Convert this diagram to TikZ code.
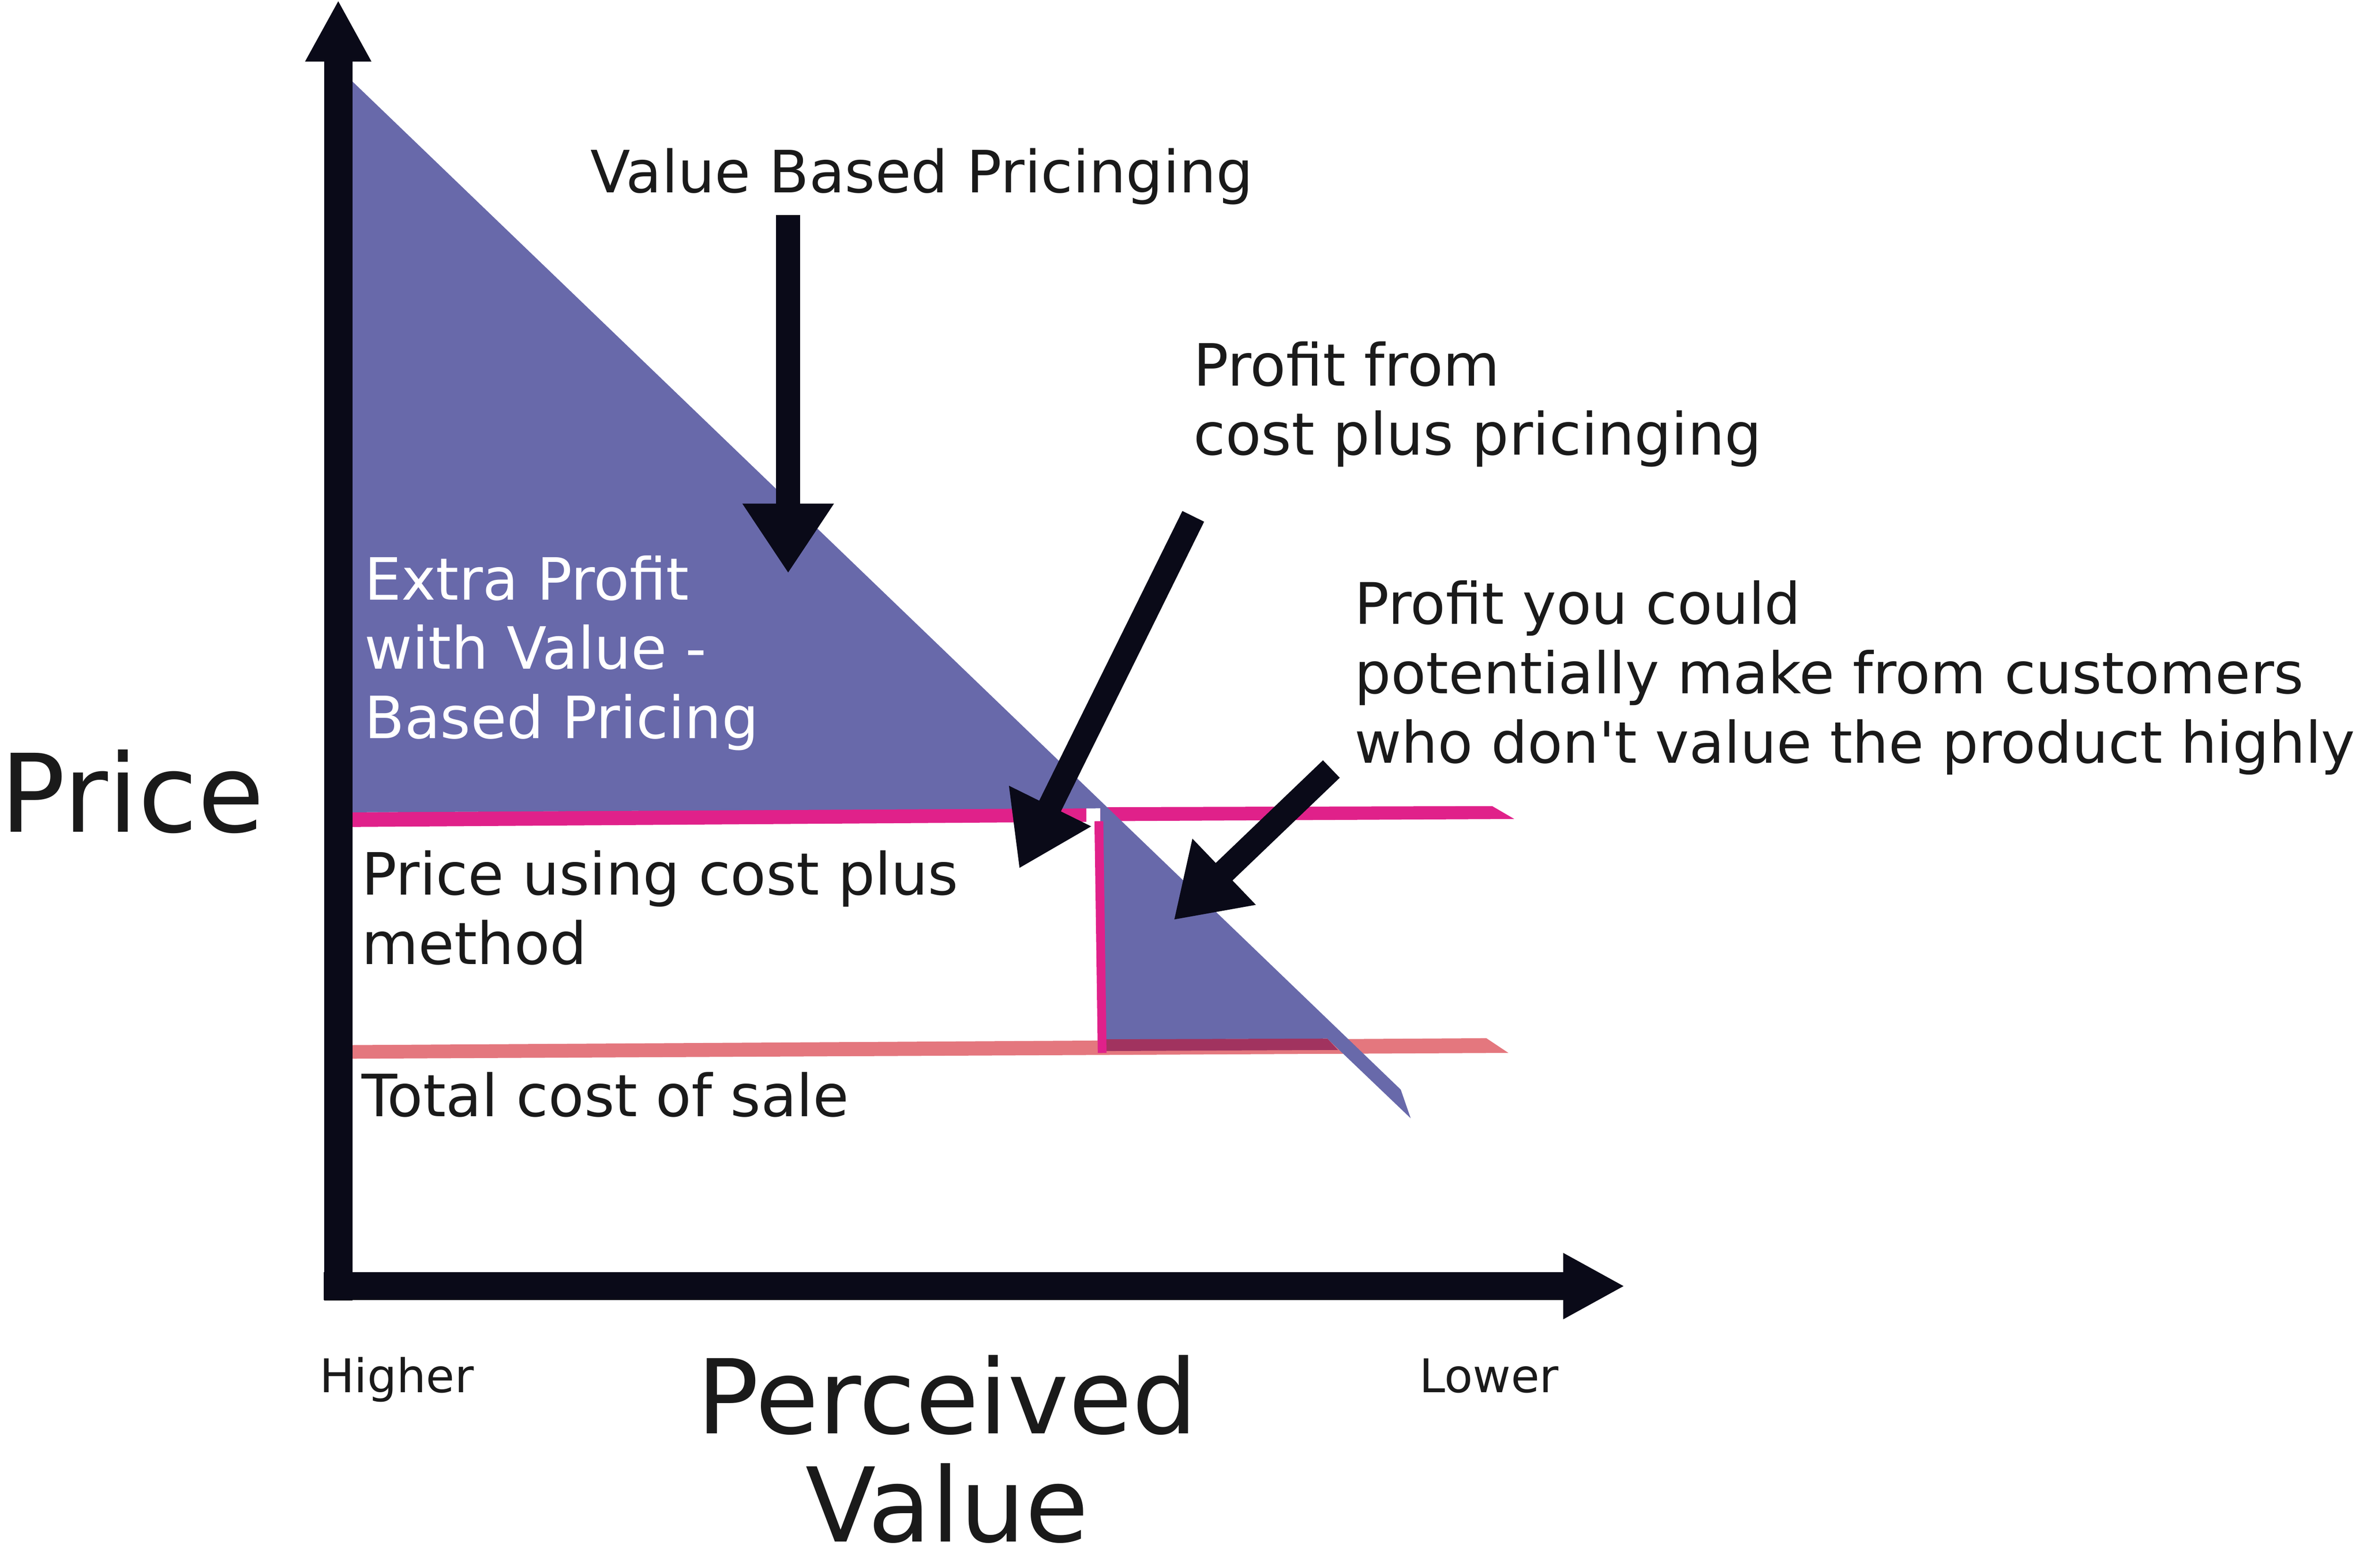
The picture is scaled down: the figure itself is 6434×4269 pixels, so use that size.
\documentclass[tikz,border=0pt]{standalone}
\usepackage{fontspec}
\setmainfont{DejaVu Sans}
\usetikzlibrary{arrows.meta}
\definecolor{valuec}{HTML}{6869AA}
\definecolor{pricec}{HTML}{E0218A}
\definecolor{costc}{HTML}{E4777E}
\definecolor{overlapc}{HTML}{A1335F}
\definecolor{inkc}{HTML}{0A0A18}
\definecolor{textc}{HTML}{1A1A1A}
\tikzset{
	every node/.style={inner sep=0pt,outer sep=0pt,anchor=base west,align=left},
	label text/.style={text=textc,font=\fontsize{22.6}{26.9}\selectfont},
	axis line/.style={draw=inkc,line width=0.385cm,-{Triangle[length=0.84cm,width=0.84cm]}},
	fat arrow/.style={draw=inkc,line width=0.33cm,-{Triangle[length=0.95cm,width=1.18cm]}},
}
\begin{document}
\begin{tikzpicture}[x=0.005cm,y=-0.005cm]
	\useasboundingbox (0,0) rectangle (6434,4269);

	% price line (cost plus)...................
	\fill [pricec] (921,2212) -- (2958,2200) -- (2958,2238) -- (921,2252) -- cycle;
	\fill [pricec] (2996,2198) -- (4063,2195) -- (4123,2230) -- (2996,2236) -- cycle;

	% total cost line...................
	\fill [costc] (921,2846) -- (4047,2827) -- (4107,2867) -- (921,2883) -- cycle;

	% value area.....................
	\fill [valuec] (940,203) -- (3814,2967) -- (3841,3045) -- (3614,2828) -- (2996,2831) -- (2996,2201) -- (940,2212) -- cycle;
	\fill [overlapc] (3003,2830) -- (3614,2828) -- (3643,2859) -- (3003,2862) -- cycle;

	% step down.....................
	\draw [pricec,line width=0.12cm] (2992,2236) -- (3001,2867);

	% axes......................
	\coordinate (ybottom) at (921,3541);
	\coordinate (ytop) at (921,0);
	\coordinate (xstart) at (882,3502);
	\coordinate (xend) at (4424,3502);
	\draw [axis line] (ybottom) to (ytop);
	\draw [axis line] (xstart) to (xend);

	% labels (multi-line ones sit on their last baseline)......................
	\node [label text] (vblabel) at (1608,525) {Value Based Pricinging};
	\node [label text] (cplabel) at (3250,1239) {Profit from\\cost plus pricinging};
	\node [label text,font=\fontsize{22.2}{26.9}\selectfont] (culabel) at (3689,2077) {Profit you could\\potentially make from customers\\who don\textquotesingle t value the product highly};
	\node [label text,text=white] (extralabel) at (993,2011) {Extra Profit\\with Value -\\Based Pricing};
	\node [label text] (pricelabel) at (985,2626) {Price using cost plus\\method};
	\node [label text] (costlabel) at (985,3040) {Total cost of sale};
	\node [text=textc,font=\fontsize{42}{48}\selectfont] (ylabel) at (0,2265) {Price};
	\node [text=textc,font=\fontsize{18}{22}\selectfont] (higher) at (870,3791) {Higher};
	\node [text=textc,font=\fontsize{18}{22}\selectfont] (lower) at (3865,3791) {Lower};
	\node [text=textc,font=\fontsize{40}{41.9}\selectfont,anchor=base,align=center] (xlabel) at (2579,4198) {Perceived\\Value};

	% arrows......................
	\coordinate (vbtail) at (2146,585);
	\coordinate (vbtip) at (2146,1561);
	\coordinate (cptail) at (3249,1406);
	\coordinate (cptip) at (2775,2365);
	\coordinate (cutail) at (3625,2094);
	\coordinate (cutip) at (3196,2505);
	\draw [fat arrow] (vbtail) to (vbtip);
	\draw [fat arrow] (cptail) to (cptip);
	\draw [fat arrow] (cutail) to (cutip);

\end{tikzpicture}
\end{document}
